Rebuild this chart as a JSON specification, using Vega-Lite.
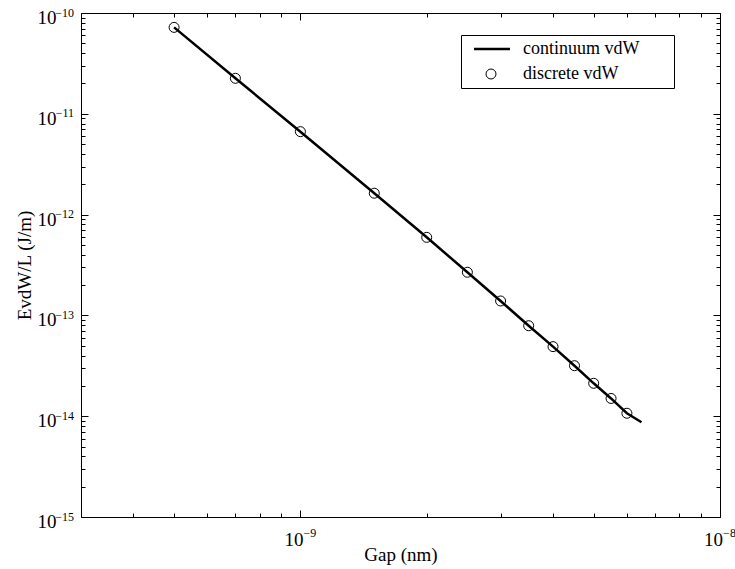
{
  "$schema": "https://vega.github.io/schema/vega-lite/v6.json",
  "width": 639,
  "height": 504,
  "autosize": "none",
  "padding": {"left": 81, "top": 13, "right": 15, "bottom": 52},
  "background": "white",
  "config": {
    "font": "Liberation Serif",
    "view": {"stroke": "black", "strokeWidth": 1},
    "axis": {
      "labelFont": "Liberation Serif",
      "titleFont": "Liberation Serif",
      "labelFontSize": 19,
      "titleFontSize": 19,
      "titleFontWeight": "normal",
      "labelColor": "black",
      "titleColor": "black",
      "domainColor": "black",
      "tickColor": "black",
      "tickWidth": 1,
      "grid": false,
      "labelFlush": false,
      "labelOverlap": false
    },
    "legend": {
      "labelFont": "Liberation Serif",
      "titleFont": "Liberation Serif",
      "labelFontSize": 18,
      "labelColor": "black"
    }
  },
  "datasets": {
    "continuum": [
      {"gap": 5e-10, "E": 7.2e-11, "series": "continuum vdW"},
      {"gap": 7e-10, "E": 2.25e-11, "series": "continuum vdW"},
      {"gap": 1e-9, "E": 6.65e-12, "series": "continuum vdW"},
      {"gap": 1.5e-9, "E": 1.63e-12, "series": "continuum vdW"},
      {"gap": 2e-9, "E": 5.95e-13, "series": "continuum vdW"},
      {"gap": 2.5e-9, "E": 2.68e-13, "series": "continuum vdW"},
      {"gap": 3e-9, "E": 1.39e-13, "series": "continuum vdW"},
      {"gap": 3.5e-9, "E": 7.9e-14, "series": "continuum vdW"},
      {"gap": 4e-9, "E": 4.9e-14, "series": "continuum vdW"},
      {"gap": 4.5e-9, "E": 3.17e-14, "series": "continuum vdW"},
      {"gap": 5e-9, "E": 2.12e-14, "series": "continuum vdW"},
      {"gap": 5.5e-9, "E": 1.5e-14, "series": "continuum vdW"},
      {"gap": 6e-9, "E": 1.07e-14, "series": "continuum vdW"},
      {"gap": 6.5e-9, "E": 8.7e-15, "series": "continuum vdW"}
    ],
    "discrete": [
      {"gap": 5e-10, "E": 7.2e-11, "series": "discrete vdW"},
      {"gap": 7e-10, "E": 2.25e-11, "series": "discrete vdW"},
      {"gap": 1e-9, "E": 6.65e-12, "series": "discrete vdW"},
      {"gap": 1.5e-9, "E": 1.63e-12, "series": "discrete vdW"},
      {"gap": 2e-9, "E": 5.95e-13, "series": "discrete vdW"},
      {"gap": 2.5e-9, "E": 2.68e-13, "series": "discrete vdW"},
      {"gap": 3e-9, "E": 1.39e-13, "series": "discrete vdW"},
      {"gap": 3.5e-9, "E": 7.9e-14, "series": "discrete vdW"},
      {"gap": 4e-9, "E": 4.9e-14, "series": "discrete vdW"},
      {"gap": 4.5e-9, "E": 3.17e-14, "series": "discrete vdW"},
      {"gap": 5e-9, "E": 2.12e-14, "series": "discrete vdW"},
      {"gap": 5.5e-9, "E": 1.5e-14, "series": "discrete vdW"},
      {"gap": 6e-9, "E": 1.07e-14, "series": "discrete vdW"}
    ]
  },
  "layer": [
    {
      "data": {"name": "continuum"},
      "mark": {"type": "line", "strokeWidth": 2.5},
      "encoding": {
        "x": {
          "field": "gap", "type": "quantitative",
          "scale": {"type": "log", "domain": [3e-10, 1e-8], "nice": false},
          "axis": {
            "orient": "bottom", "values": [1e-9, 1e-8], "tickSize": -7,
            "labelPadding": 20.5, "labelOffset": -7,
            "labelExpr": "'10'",
            "title": "Gap (nm)", "titlePadding": -4
          }
        },
        "y": {
          "field": "E", "type": "quantitative",
          "scale": {"type": "log", "domain": [1e-15, 1e-10], "nice": false},
          "axis": {
            "orient": "left", "values": [1e-15, 1e-14, 1e-13, 1e-12, 1e-11, 1e-10], "tickSize": -7,
            "labelPadding": 32, "labelOffset": 4.5,
            "labelExpr": "'10'",
            "title": "EvdW/L (J/m)", "titlePadding": 3
          }
        },
        "color": {
          "field": "series", "type": "nominal",
          "scale": {"domain": ["continuum vdW", "discrete vdW"], "range": ["black", "black"]},
          "legend": {
            "title": " ",
            "titleOrient": "right",
            "titleFontSize": 18,
            "titlePadding": 30,
            "orient": "none",
            "legendX": 380,
            "legendY": 22,
            "strokeColor": "black",
            "fillColor": "white",
            "padding": 5,
            "rowPadding": 7,
            "symbolSize": 100,
            "symbolOffset": 0,
            "labelOffset": 39,
            "labelFont": "Liberation Serif",
            "labelFontSize": 18,
            "encode": {
              "symbols": {
                "update": {
                  "shape": {"signal": "datum.value === 'continuum vdW' ? 'M-0.2,0H7.0' : 'M4.2,0A1,1,0,1,1,2.2,0A1,1,0,1,1,4.2,0Z'"},
                  "strokeWidth": {"signal": "datum.value === 'continuum vdW' ? 2.5 : 1"},
                  "fill": {"value": "transparent"},
                  "stroke": {"value": "black"},
                  "size": {"value": 100},
                  "opacity": {"value": 1}
                }
              }
            }
          }
        }
      }
    },
    {
      "data": {"name": "discrete"},
      "mark": {"type": "point", "shape": "circle", "filled": false, "size": 100, "strokeWidth": 1, "opacity": 1},
      "encoding": {
        "x": {
          "field": "gap", "type": "quantitative",
          "scale": {"type": "log", "domain": [3e-10, 1e-8], "nice": false},
          "axis": {"orient": "top", "values": [1e-9, 1e-8], "tickSize": -7, "labels": false, "title": null, "domain": false}
        },
        "y": {
          "field": "E", "type": "quantitative",
          "scale": {"type": "log", "domain": [1e-15, 1e-10], "nice": false},
          "axis": {"orient": "right", "values": [1e-15, 1e-14, 1e-13, 1e-12, 1e-11, 1e-10], "tickSize": -7, "labels": false, "title": null, "domain": false}
        },
        "color": {
          "field": "series", "type": "nominal",
          "scale": {"domain": ["continuum vdW", "discrete vdW"], "range": ["black", "black"]}
        }
      }
    },
    {
      "data": {"name": "discrete"},
      "mark": {"type": "point", "opacity": 0},
      "encoding": {
        "x": {
          "field": "gap", "type": "quantitative",
          "scale": {"type": "log", "domain": [3e-10, 1e-8], "nice": false},
          "axis": {"orient": "bottom", "values": [4e-10, 5e-10, 6e-10, 7e-10, 8e-10, 9e-10, 2e-9, 3e-9, 4e-9, 5e-9, 6e-9, 7e-9, 8e-9, 9e-9], "tickSize": -4, "labels": false, "title": null, "domain": false}
        },
        "y": {
          "field": "E", "type": "quantitative",
          "scale": {"type": "log", "domain": [1e-15, 1e-10], "nice": false},
          "axis": {"orient": "left", "values": [2e-15, 3e-15, 4e-15, 5e-15, 6e-15, 7e-15, 8e-15, 9e-15, 2e-14, 3e-14, 4e-14, 5e-14, 6e-14, 7e-14, 8e-14, 9e-14, 2e-13, 3e-13, 4e-13, 5e-13, 6e-13, 7e-13, 8e-13, 9e-13, 2e-12, 3e-12, 4e-12, 5e-12, 6e-12, 7e-12, 8e-12, 9e-12, 2e-11, 3e-11, 4e-11, 5e-11, 6e-11, 7e-11, 8e-11, 9e-11], "tickSize": -4, "labels": false, "title": null, "domain": false}
        }
      }
    },
    {
      "data": {"name": "discrete"},
      "mark": {"type": "point", "opacity": 0},
      "encoding": {
        "x": {
          "field": "gap", "type": "quantitative",
          "scale": {"type": "log", "domain": [3e-10, 1e-8], "nice": false},
          "axis": {"orient": "top", "values": [4e-10, 5e-10, 6e-10, 7e-10, 8e-10, 9e-10, 2e-9, 3e-9, 4e-9, 5e-9, 6e-9, 7e-9, 8e-9, 9e-9], "tickSize": -4, "labels": false, "title": null, "domain": false}
        },
        "y": {
          "field": "E", "type": "quantitative",
          "scale": {"type": "log", "domain": [1e-15, 1e-10], "nice": false},
          "axis": {"orient": "right", "values": [2e-15, 3e-15, 4e-15, 5e-15, 6e-15, 7e-15, 8e-15, 9e-15, 2e-14, 3e-14, 4e-14, 5e-14, 6e-14, 7e-14, 8e-14, 9e-14, 2e-13, 3e-13, 4e-13, 5e-13, 6e-13, 7e-13, 8e-13, 9e-13, 2e-12, 3e-12, 4e-12, 5e-12, 6e-12, 7e-12, 8e-12, 9e-12, 2e-11, 3e-11, 4e-11, 5e-11, 6e-11, 7e-11, 8e-11, 9e-11], "tickSize": -4, "labels": false, "title": null, "domain": false}
        }
      }
    },
    {
      "data": {"name": "discrete"},
      "mark": {"type": "point", "opacity": 0},
      "encoding": {
        "x": {
          "field": "gap", "type": "quantitative",
          "scale": {"type": "log", "domain": [3e-10, 1e-8], "nice": false},
          "axis": {
            "orient": "bottom", "values": [1e-9, 1e-8], "ticks": false, "domain": false, "title": null,
            "labelFontSize": 12, "labelPadding": 10, "labelOffset": 9,
            "labelExpr": "datum.value < 5e-9 ? '−9' : '−8'"
          }
        },
        "y": {
          "field": "E", "type": "quantitative",
          "scale": {"type": "log", "domain": [1e-15, 1e-10], "nice": false},
          "axis": {
            "orient": "left", "values": [1e-15, 1e-14, 1e-13, 1e-12, 1e-11, 1e-10], "ticks": false, "domain": false, "title": null,
            "labelFontSize": 12, "labelPadding": 7.5, "labelOffset": -1,
            "labelExpr": "datum.value > 5e-11 ? '−10' : datum.value > 5e-12 ? '−11' : datum.value > 5e-13 ? '−12' : datum.value > 5e-14 ? '−13' : datum.value > 5e-15 ? '−14' : '−15'"
          }
        }
      }
    }
  ],
  "resolve": {"axis": {"x": "independent", "y": "independent"}}
}
